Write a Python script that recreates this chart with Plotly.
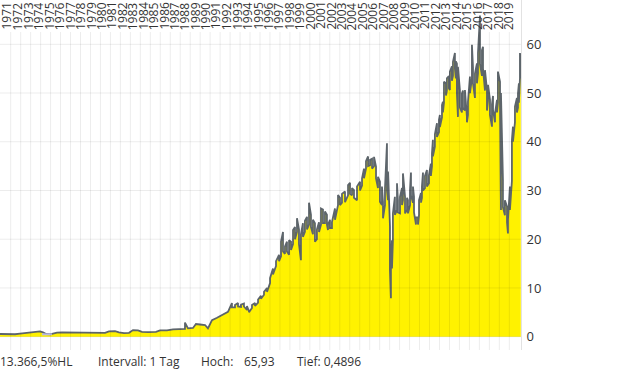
import plotly.graph_objects as go

# ---------------- data ----------------
dates = [
    1970.33, 1970.81, 1971.29, 1971.77, 1972.25, 1972.72, 1973.20, 1973.49, 1973.78, 1974.16,
    1974.45, 1974.74, 1975.12, 1975.41, 1975.79, 1976.27, 1977.04, 1977.99, 1978.95, 1979.91,
    1980.39, 1980.77, 1981.35, 1981.73, 1982.21, 1982.69, 1983.07, 1983.55, 1983.93, 1984.51,
    1984.89, 1985.27, 1985.66, 1986.33, 1986.90, 1987.57, 1987.96, 1988.05, 1988.34, 1988.82,
    1989.10, 1989.49, 1989.97, 1990.25, 1990.64, 1991.12, 1991.69, 1992.17,
    1992.55, 1992.84, 1993.13, 1993.42, 1993.70, 1993.99, 1994.18, 1994.47, 1994.76, 1995.05,
    1995.33, 1995.62, 1995.91, 1996.20, 1996.48, 1996.77, 1997.06, 1997.25, 1997.44, 1997.63,
    1997.82, 1998.02, 1998.21, 1998.40, 1998.59, 1998.78, 1998.97, 1999.16, 1999.35, 1999.54,
    1999.74, 1999.93, 2000.12, 2000.31, 2000.50, 2000.69, 2000.89, 2001.08, 2001.27, 2001.46,
    2001.65, 2001.75, 2001.94, 2002.13, 2002.42, 2002.71, 2002.90, 2003.09, 2003.38, 2003.67,
    2003.86, 2004.05, 2004.24, 2004.53, 2004.82, 2005.01, 2005.20, 2005.39, 2005.59, 2005.78,
    2005.97, 2006.16, 2006.35, 2006.54, 2006.73, 2006.92, 2007.02, 2007.21, 2007.40, 2007.50,
    2007.69, 2007.78, 2007.88, 2007.97, 2008.16, 2008.36, 2008.45, 2008.65, 2008.84, 2008.93,
    2009.13, 2009.32, 2009.41, 2009.61, 2009.70, 2009.89, 2009.99, 2010.18, 2010.37, 2010.47,
    2010.66, 2010.75, 2010.85, 2011.04, 2011.23, 2011.42, 2011.61, 2011.71, 2011.80, 2011.99,
    2012.19, 2012.38, 2012.47, 2012.67, 2012.76, 2012.86, 2013.05, 2013.14, 2013.33, 2013.43,
    2013.62, 2013.72, 2013.91, 2014.00, 2014.10, 2014.20, 2014.39, 2014.58, 2014.68, 2014.87,
    2015.06, 2015.16, 2015.35, 2015.54, 2015.64, 2015.83, 2016.02, 2016.12, 2016.31, 2016.50,
    2016.60, 2016.79, 2016.98, 2017.08, 2017.27, 2017.46, 2017.56, 2017.75, 2017.94, 2018.03,
    2018.23, 2018.32, 2018.51, 2018.70, 2018.90, 2018.99, 2019.18, 2019.37, 2019.47, 2019.66,
    2019.85, 2019.95, 2020.04, 2020.14, 2020.22,
]

highs = [
    0.55, 0.50, 0.55, 0.50, 0.65, 0.75, 0.75, 0.95, 1.00, 1.10,
    0.90, 0.55, 0.50, 0.65, 0.85, 0.90, 0.90, 0.95, 0.85, 0.85,
    0.80, 1.10, 1.15, 0.90, 0.75, 0.80, 1.35, 1.30, 1.00, 0.95,
    0.90, 1.00, 1.30, 1.30, 1.50, 1.50, 1.60, 2.90, 1.70, 1.80,
    2.60, 2.50, 2.40, 1.70, 3.40, 3.90, 4.60, 5.10,
    6.9, 6.5, 6.9, 6.6, 6.8, 6.3, 5.2, 6.5, 6.9, 7.6,
    8.4, 9.2, 10.0, 12.0, 14.0, 15.5, 16.8, 19.5, 21.5, 18.5,
    19.5, 19.8, 19.5, 21.9, 22.5, 24.3, 22.0, 21.0, 23.3, 23.8,
    24.6, 27.5, 25.0, 24.0, 23.3, 22.0, 23.5, 26.3, 26.1, 25.7,
    25.0, 23.0, 24.0, 23.5, 26.3, 29.1, 28.5, 29.3, 29.8, 31.1,
    31.6, 30.5, 30.1, 30.8, 31.8, 32.5, 34.5, 36.0, 37.0, 36.3,
    36.5, 36.9, 34.9, 32.8, 31.8, 30.8, 27.7, 30.4, 39.7, 33.9,
    22.6, 15.0, 19.8, 25.3, 28.7, 31.5, 28.0, 28.7, 30.5, 33.5,
    28.7, 28.5, 28.0, 30.0, 33.7, 30.8, 28.7, 24.5, 24.5, 28.0,
    29.5, 30.8, 33.7, 33.0, 34.2, 33.1, 35.5, 37.6, 40.4, 41.5,
    43.8, 44.5, 45.5, 47.5, 48.2, 52.3, 52.0, 53.0, 53.5, 54.4,
    55.5, 56.4, 58.2, 56.5, 56.0, 55.4, 50.5, 49.9, 50.5, 50.6,
    45.1, 48.2, 53.4, 59.9, 55.3, 54.0, 56.1, 58.2, 65.9, 58.8,
    59.5, 54.7, 50.6, 51.7, 48.6, 47.7, 49.4, 45.8, 48.6, 54.4,
    52.3, 50.0, 32.2, 28.0, 26.7, 24.0, 30.8, 40.4, 43.1, 47.2,
    49.0, 49.9, 52.0, 58.2, 57.0,
]

lows = [
    0.55, 0.50, 0.55, 0.50, 0.65, 0.75, 0.75, 0.95, 1.00, 1.10,
    0.90, 0.55, 0.50, 0.65, 0.85, 0.90, 0.90, 0.95, 0.85, 0.85,
    0.80, 1.10, 1.15, 0.90, 0.75, 0.80, 1.35, 1.30, 1.00, 0.95,
    0.90, 1.00, 1.30, 1.30, 1.50, 1.50, 1.60, 1.60, 1.70, 1.80,
    2.60, 2.50, 2.40, 1.70, 3.40, 3.90, 4.60, 5.10,
    6.0, 6.0, 6.2, 6.1, 6.2, 5.5, 5.0, 5.9, 6.3, 7.0,
    7.8, 8.6, 9.2, 11.0, 12.8, 14.5, 15.5, 16.5, 17.5, 17.0,
    17.5, 16.8, 17.8, 19.0, 20.0, 21.5, 19.0, 15.7, 20.5, 21.5,
    22.0, 23.0, 22.5, 21.0, 19.5, 20.0, 21.5, 23.0, 23.3, 23.3,
    23.0, 21.9, 22.3, 22.3, 24.0, 27.0, 27.0, 27.5, 27.6, 29.0,
    29.3, 29.0, 28.5, 28.0, 30.0, 31.0, 32.5, 34.5, 35.0, 35.2,
    34.5, 35.0, 32.5, 30.5, 27.7, 27.0, 24.3, 27.0, 30.0, 28.0,
    13.7, 7.9, 14.0, 19.8, 25.0, 26.0, 25.5, 25.3, 27.0, 28.0,
    25.3, 26.0, 25.3, 27.0, 29.0, 27.5, 25.5, 23.0, 23.0, 25.0,
    27.5, 28.5, 30.0, 30.5, 30.8, 31.5, 33.0, 35.0, 37.0, 39.0,
    41.0, 42.0, 43.0, 45.0, 46.0, 48.0, 49.5, 50.5, 51.0, 50.6,
    52.5, 53.5, 55.0, 53.0, 49.9, 45.1, 47.0, 46.0, 47.0, 46.4,
    44.0, 45.5, 50.0, 53.0, 52.0, 49.0, 52.0, 54.0, 56.0, 53.5,
    55.0, 50.5, 46.4, 48.5, 45.5, 43.1, 46.5, 44.0, 46.0, 48.0,
    48.5, 26.0, 26.6, 24.9, 23.5, 21.2, 26.0, 32.0, 40.0, 44.0,
    46.0, 47.0, 48.0, 53.0, 53.0,
]

# period of the all-time low (Tief 0,4896)
low_period = [1974.35, 1975.30]
low_value = 0.4896

year_labels = list(range(1971, 2020))
y_ticks = [0, 10, 20, 30, 40, 50, 60]
footer = [
    ("13.366,5%HL", 0),
    ("Intervall: 1 Tag", 98),
    ("Hoch:", 201),
    ("65,93", 244),
    ("Tief: 0,4896", 297),
]

# ---------------- layout constants ----------------
W, H = 620, 372
PLOT_W, PLOT_H = 521, 350
X_RANGE = [1970.33, 2020.24]
Y_RANGE = [-2.73, 69.09]
FONT = "Open Sans, Noto Sans, sans-serif"
TXT = "#333333"

# build a hi/lo zig-zag path so the line shows the daily range band
xs, ys = [], []
for i, (d, hi, lo) in enumerate(zip(dates, highs, lows)):
    pair = [hi, lo] if i % 2 == 0 else [lo, hi]
    xs += [d, d]
    ys += pair

fig = go.Figure()
fig.add_trace(go.Scatter(
    x=xs, y=ys, mode="lines",
    line=dict(color="#5d656b", width=1.8),
    fill="tozeroy", fillcolor="#fff200",
    hoverinfo="skip", showlegend=False,
))
fig.add_trace(go.Scatter(
    x=low_period, y=[low_value, low_value], mode="lines",
    line=dict(color="#b9b9e3", width=2),
    hoverinfo="skip", showlegend=False,
))

shapes = []
grid = "rgba(0,0,0,0.075)"
for v in y_ticks:
    shapes.append(dict(type="line", xref="paper", yref="y", x0=0, x1=1, y0=v, y1=v,
                       line=dict(color=grid, width=1), layer="above"))
for k in range(51):
    px = 10.7 + 9.972 * k
    shapes.append(dict(type="line", xref="paper", yref="paper", x0=px / PLOT_W, x1=px / PLOT_W,
                       y0=0, y1=(PLOT_H - 32) / PLOT_H,
                       line=dict(color=grid, width=1), layer="above"))

annotations = []
for yr in year_labels:
    annotations.append(dict(x=yr, y=1, xref="x", yref="paper", text=str(yr),
                            textangle=-90, showarrow=False, xanchor="center", yanchor="top",
                            yshift=-1, borderpad=0,
                            font=dict(family=FONT, size=12, color=TXT)))
for text, px in footer:
    annotations.append(dict(x=px / PLOT_W, y=-(361 - PLOT_H) / PLOT_H, xref="paper", yref="paper",
                            text=text, showarrow=False, xanchor="left", yanchor="middle",
                            xshift=-2, font=dict(family=FONT, size=12, color=TXT)))

fig.update_layout(
    width=W, height=H,
    margin=dict(l=0, r=W - PLOT_W, t=0, b=H - PLOT_H, pad=0),
    paper_bgcolor="white", plot_bgcolor="white",
    xaxis=dict(range=X_RANGE, showgrid=False, zeroline=False, showticklabels=False,
               ticks="", showline=False, fixedrange=True),
    yaxis=dict(range=Y_RANGE, side="right", tickvals=y_ticks, showgrid=False, zeroline=False,
               showline=True, linecolor="#e2e2e2", linewidth=1, ticks="",
               ticklabelstandoff=2, tickfont=dict(family=FONT, size=13, color=TXT),
               fixedrange=True),
    shapes=shapes,
    annotations=annotations,
    showlegend=False,
)

fig.write_html("out.html")
